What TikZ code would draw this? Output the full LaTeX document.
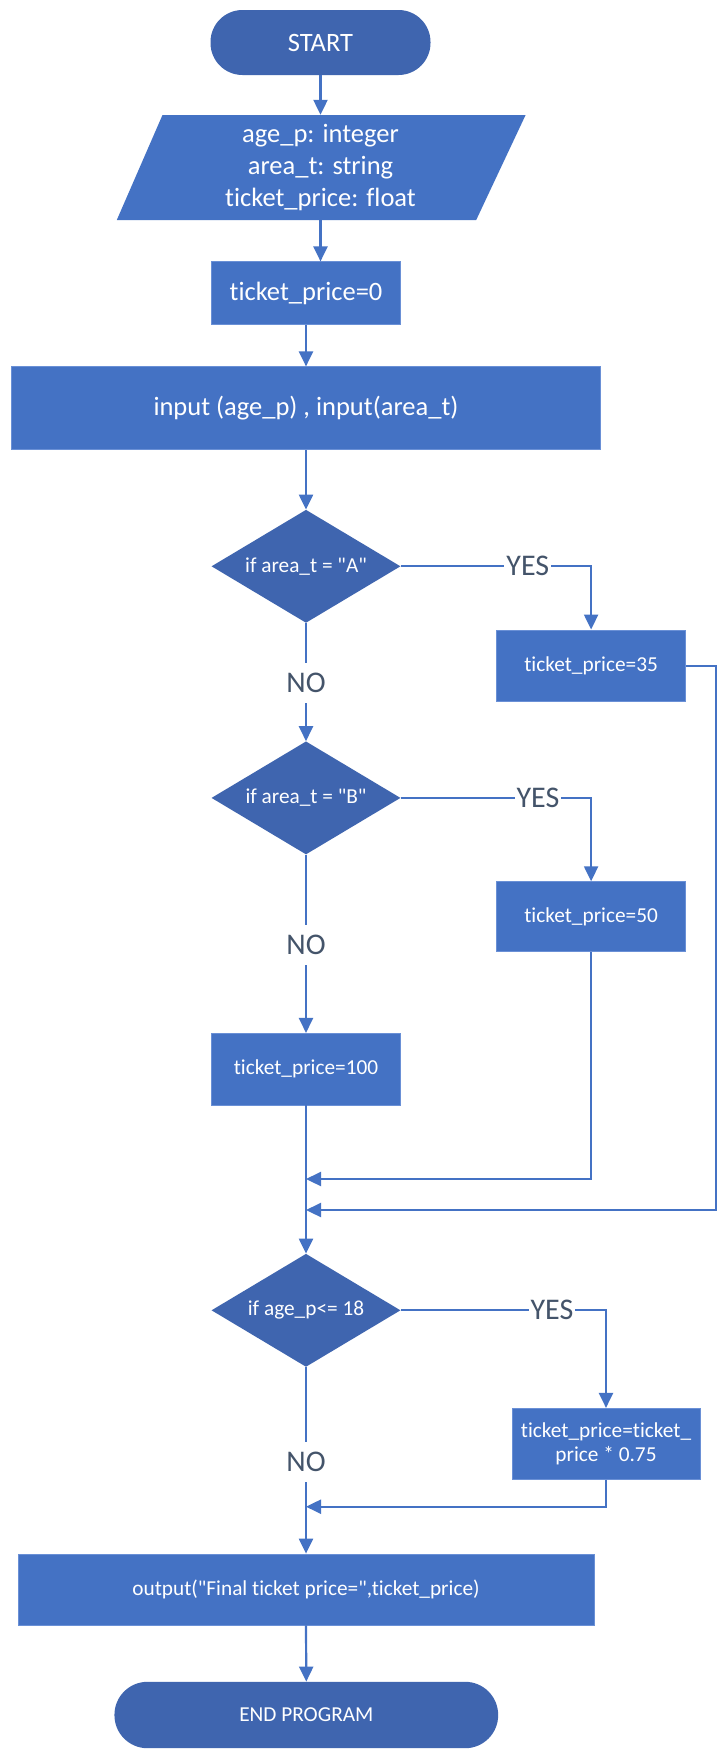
\documentclass[tikz,border=0pt]{standalone}
\usepackage{fontspec}
\setmainfont{Carlito}[Ligatures={TeXOff,NoCommon}]
\usetikzlibrary{shapes.geometric,arrows.meta}
\definecolor{boxblue}{HTML}{4472C4}
\definecolor{darkblue}{HTML}{3F65AF}
\definecolor{edgeblue}{HTML}{6A90D6}
\definecolor{lineblue}{HTML}{4472C4}
\definecolor{labelgray}{HTML}{44546A}
\newcommand{\sq}{\symbol{34}}
\begin{document}
\begin{tikzpicture}[x=1pt,y=-1pt,
  smallfont/.style={font=\fontsize{21.3}{23.4}\selectfont},
  bigfont/.style={font=\fontsize{26.5}{31.7}\selectfont},
  procbox/.style={rectangle, fill=boxblue, draw=edgeblue, line width=0.8pt, text=white, inner sep=0pt, align=center},
  termbox/.style={rectangle, fill=darkblue, draw=none, rounded corners=32pt, text=white, inner sep=0pt, align=center},
  decbox/.style={diamond, fill=darkblue, draw=none, text=white, inner sep=0pt, aspect=1.67, minimum width=189pt, minimum height=113pt, smallfont},
  conn/.style={draw=lineblue, line width=2.2pt, -{Triangle[length=15pt,width=14pt]}},
  yeslbl/.style={fill=white, text=labelgray, font=\fontsize{30}{36}\selectfont, inner xsep=2pt, inner ysep=4pt},
  nolbl/.style={fill=white, text=labelgray, font=\fontsize{30}{36}\selectfont, inner xsep=2pt, inner ysep=10pt}
]
\useasboundingbox (0,0) rectangle (718,1751);
\fill[white] (0,0) rectangle (718,1751);

% nodes
\node[termbox, bigfont, minimum width=220pt, minimum height=65pt] (start) at (320.5,42.5) {START};
\fill[boxblue] (162.5,115) -- (525.6,115) -- (476.2,220) -- (116.8,220) -- cycle;
\node[align=center, text=white, bigfont, inner sep=0pt, minimum width=300pt, minimum height=105pt] (decl) at (320.5,167.5) {age\_p: integer\\area\_t: string\\ticket\_price: float};
\node[procbox, bigfont, minimum width=189pt, minimum height=63pt] (init) at (306,293.3) {ticket\_price=0};
\node[procbox, bigfont, minimum width=589pt, minimum height=83pt] (input) at (306,408.3) {input (age\_p) , input(area\_t)};
\node[decbox] (dA) at (306,566.3) {if area\_t = \sq A\sq};
\node[procbox, smallfont, minimum width=188.6pt, minimum height=71.7pt] (b35) at (591.1,665.8) {ticket\_price=35};
\node[decbox] (dB) at (306,797.9) {if area\_t = \sq B\sq};
\node[procbox, smallfont, minimum width=188.6pt, minimum height=70pt] (b50) at (591.1,916.7) {ticket\_price=50};
\node[procbox, smallfont, minimum width=189pt, minimum height=71.7pt] (b100) at (306,1069.2) {ticket\_price=100};
\node[decbox] (dC) at (306,1310.3) {if age\_p<= 18};
\node[procbox, smallfont, minimum width=188.2pt, minimum height=71pt] (b75) at (606,1443.8) {ticket\_price=ticket\_\\price * 0.75};
\node[procbox, smallfont, minimum width=576pt, minimum height=71pt] (out) at (306,1589.5) {output(\sq Final ticket price=\sq,ticket\_price)};
\node[termbox, smallfont, minimum width=383.7pt, minimum height=66.4pt, rounded corners=33pt] (end) at (306.3,1715) {END PROGRAM};

\coordinate (m1) at (306,1179);
\coordinate (m2) at (306,1210);
\coordinate (m3) at (306,1506.7);
\coordinate (r1) at (716,665.8);
\coordinate (r2) at (716,1210);

% connectors
\draw[conn] (start.south) -- (decl.north);
\draw[conn] (decl.south) -- (decl.south |- init.north);
\draw[conn] (init.south) -- (input.north);
\draw[conn] (input.south) -- (dA.north);
\draw[conn] (dA.east) -- (dA.east -| b35.north) -- (b35.north);
\draw[conn] (dA.south) -- (dB.north);
\draw[conn] (dB.east) -- (dB.east -| b50.north) -- (b50.north);
\draw[conn] (dB.south) -- (b100.north);
\draw[conn] (b50.south) -- (b50.south |- m1) -- (m1);
\draw[conn] (b35.east) -- (r1) -- (r2) -- (m2);
\draw[conn] (b100.south) -- (dC.north);
\draw[conn] (dC.east) -- (dC.east -| b75.north) -- (b75.north);
\draw[conn] (b75.south) -- (b75.south |- m3) -- (m3);
\draw[conn] (dC.south) -- (out.north);
\draw[conn] (out.south) -- (end.north);

% labels
\node[yeslbl] (yesA) at (527.8,566.3) {YES};
\node[yeslbl] (yesB) at (538,797.9) {YES};
\node[yeslbl] (yesC) at (552,1310.3) {YES};
\node[nolbl] (noA) at (306,683.3) {NO};
\node[nolbl] (noB) at (306,945) {NO};
\node[nolbl] (noC) at (306,1461.7) {NO};
\end{tikzpicture}
\end{document}
